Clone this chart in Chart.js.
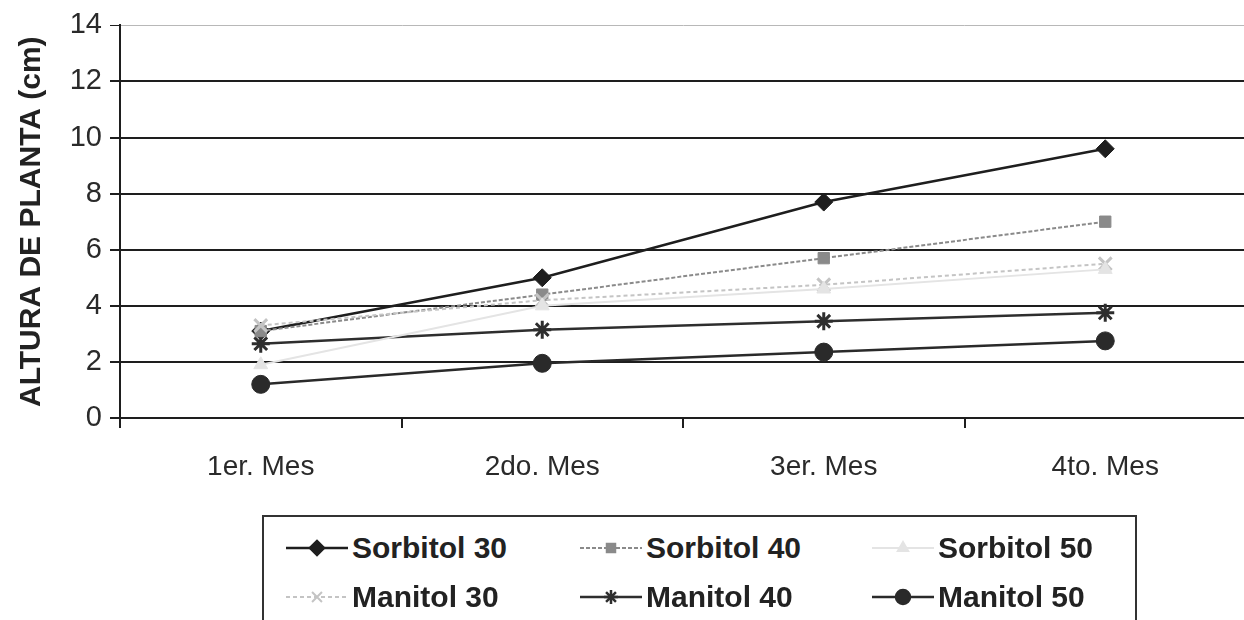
<!DOCTYPE html>
<html>
<head>
<meta charset="utf-8">
<script src="https://cdn.jsdelivr.net/npm/chart.js@4.4.1/dist/chart.umd.min.js"></script>
<style>
  html, body { margin: 0; padding: 0; background: #fff; }
  body { width: 1244px; height: 620px; position: relative; overflow: hidden; font-family: "Liberation Sans", Arial, sans-serif; }
  #chart-wrap { position: absolute; left: 0; top: 0; width: 1258px; height: 480px; }
  #legend {
    position: absolute; left: 262px; top: 515px; width: 875px; height: 120px;
    border: 2px solid #333; background: #fff;
    display: grid; grid-template-columns: 294px 292px 285px; grid-auto-rows: 49px;
    padding-top: 6px; box-sizing: border-box;
  }
  .item { display: flex; align-items: center; padding-left: 22px; }
  .item canvas { width: 62px; height: 30px; margin-right: 4px; }
  .item span { font-weight: bold; font-size: 30px; color: #222; }
</style>
</head>
<body>
<div id="chart-wrap"><canvas id="plant-chart"></canvas></div>
<div id="legend"></div>
<script>
const months = ['1er. Mes', '2do. Mes', '3er. Mes', '4to. Mes'];
const sorbitol30 = [3.1, 5.0, 7.7, 9.6];
const sorbitol40 = [3.1, 4.4, 5.7, 7.0];
const sorbitol50 = [1.9, 4.0, 4.6, 5.3];
const manitol30 = [3.3, 4.2, 4.75, 5.5];
const manitol40 = [2.65, 3.15, 3.45, 3.75];
const manitol50 = [1.2, 1.95, 2.35, 2.75];
const yTicks = [0, 2, 4, 6, 8, 10, 12, 14];

document.addEventListener('DOMContentLoaded', function () {
    const ctx = document.getElementById('plant-chart');

    function series(label, data, color, style, radius, dash, width) {
        return {
            label: label,
            data: data,
            borderColor: color,
            backgroundColor: color,
            borderWidth: width,
            borderDash: dash,
            pointStyle: style,
            pointRadius: radius,
            pointHoverRadius: radius,
            pointBorderWidth: (style === 'crossRot' || style === 'star') ? 3 : 1,
            pointBorderColor: color,
            pointBackgroundColor: color,
            tension: 0
        };
    }

    const datasets = [
        series('Sorbitol 50', sorbitol50, '#e4e4e4', 'triangle', 8, [], 2),
        series('Manitol 30', manitol30, '#c4c4c4', 'crossRot', 9, [4, 3], 2),
        series('Sorbitol 40', sorbitol40, '#8a8a8a', 'rect', 8, [4, 2], 2),
        series('Manitol 50', manitol50, '#2a2a2a', 'circle', 9, [], 2.5),
        series('Manitol 40', manitol40, '#2e2e2e', 'star', 9, [], 2.5),
        series('Sorbitol 30', sorbitol30, '#1e1e1e', 'rectRot', 9, [], 2.5)
    ];

    new Chart(ctx, {
        type: 'line',
        data: { labels: months, datasets: datasets },
        options: {
            responsive: true,
            maintainAspectRatio: false,
            animation: false,
            layout: { padding: { top: 24, right: 0, left: 0, bottom: 0 } },
            plugins: {
                legend: { display: false },
                tooltip: { enabled: false }
            },
            scales: {
                y: {
                    min: 0,
                    max: 14,
                    afterFit: function (scale) { scale.width = 120; },
                    afterBuildTicks: function (scale) {
                        scale.ticks = yTicks.map(v => ({ value: v }));
                    },
                    title: {
                        display: true,
                        text: 'ALTURA DE PLANTA (cm)',
                        color: '#222',
                        font: { family: 'Liberation Sans', size: 30, weight: 'bold' },
                        padding: { top: 14, bottom: 4 }
                    },
                    ticks: {
                        color: '#2a2a2a',
                        padding: 8,
                        font: { family: 'Liberation Sans', size: 29 }
                    },
                    grid: {
                        color: c => (c.tick && c.tick.value === 14) ? '#b8b8b8' : '#1e1e1e',
                        lineWidth: c => (c.tick && c.tick.value === 14) ? 1 : 2,
                        tickColor: '#1e1e1e',
                        tickLength: 10
                    },
                    border: { display: true, color: '#1e1e1e', width: 2 }
                },
                x: {
                    offset: true,
                    afterFit: function (scale) { scale.height = 62; },
                    ticks: {
                        color: '#2a2a2a',
                        padding: 22,
                        maxRotation: 0,
                        font: { family: 'Liberation Sans', size: 28 }
                    },
                    grid: {
                        offset: true,
                        drawOnChartArea: false,
                        tickColor: '#1e1e1e',
                        tickLength: 10,
                        lineWidth: 2
                    },
                    border: { display: true, color: '#1e1e1e', width: 2 }
                }
            }
        }
    });

    // legend laid out as a 3 x 2 grid, like the original
    const legendOrder = ['Sorbitol 30', 'Sorbitol 40', 'Sorbitol 50', 'Manitol 30', 'Manitol 40', 'Manitol 50'];
    const legendBox = document.getElementById('legend');
    legendOrder.forEach(name => {
        const ds = datasets.find(d => d.label === name);
        const item = document.createElement('div');
        item.className = 'item';
        const c = document.createElement('canvas');
        c.width = 62; c.height = 30;
        const g = c.getContext('2d');
        g.strokeStyle = ds.borderColor;
        g.fillStyle = ds.backgroundColor;
        g.lineWidth = ds.borderWidth;
        g.setLineDash(ds.borderDash);
        g.beginPath();
        g.moveTo(0, 15);
        g.lineTo(62, 15);
        g.stroke();
        g.setLineDash([]);
        Chart.helpers.drawPoint(g, {
            pointStyle: ds.pointStyle,
            radius: ds.pointRadius - 2,
            rotation: 0,
            borderWidth: ds.pointBorderWidth
        }, 31, 15);
        item.appendChild(c);
        const label = document.createElement('span');
        label.textContent = name;
        item.appendChild(label);
        legendBox.appendChild(item);
    });
});
</script>
</body>
</html>
